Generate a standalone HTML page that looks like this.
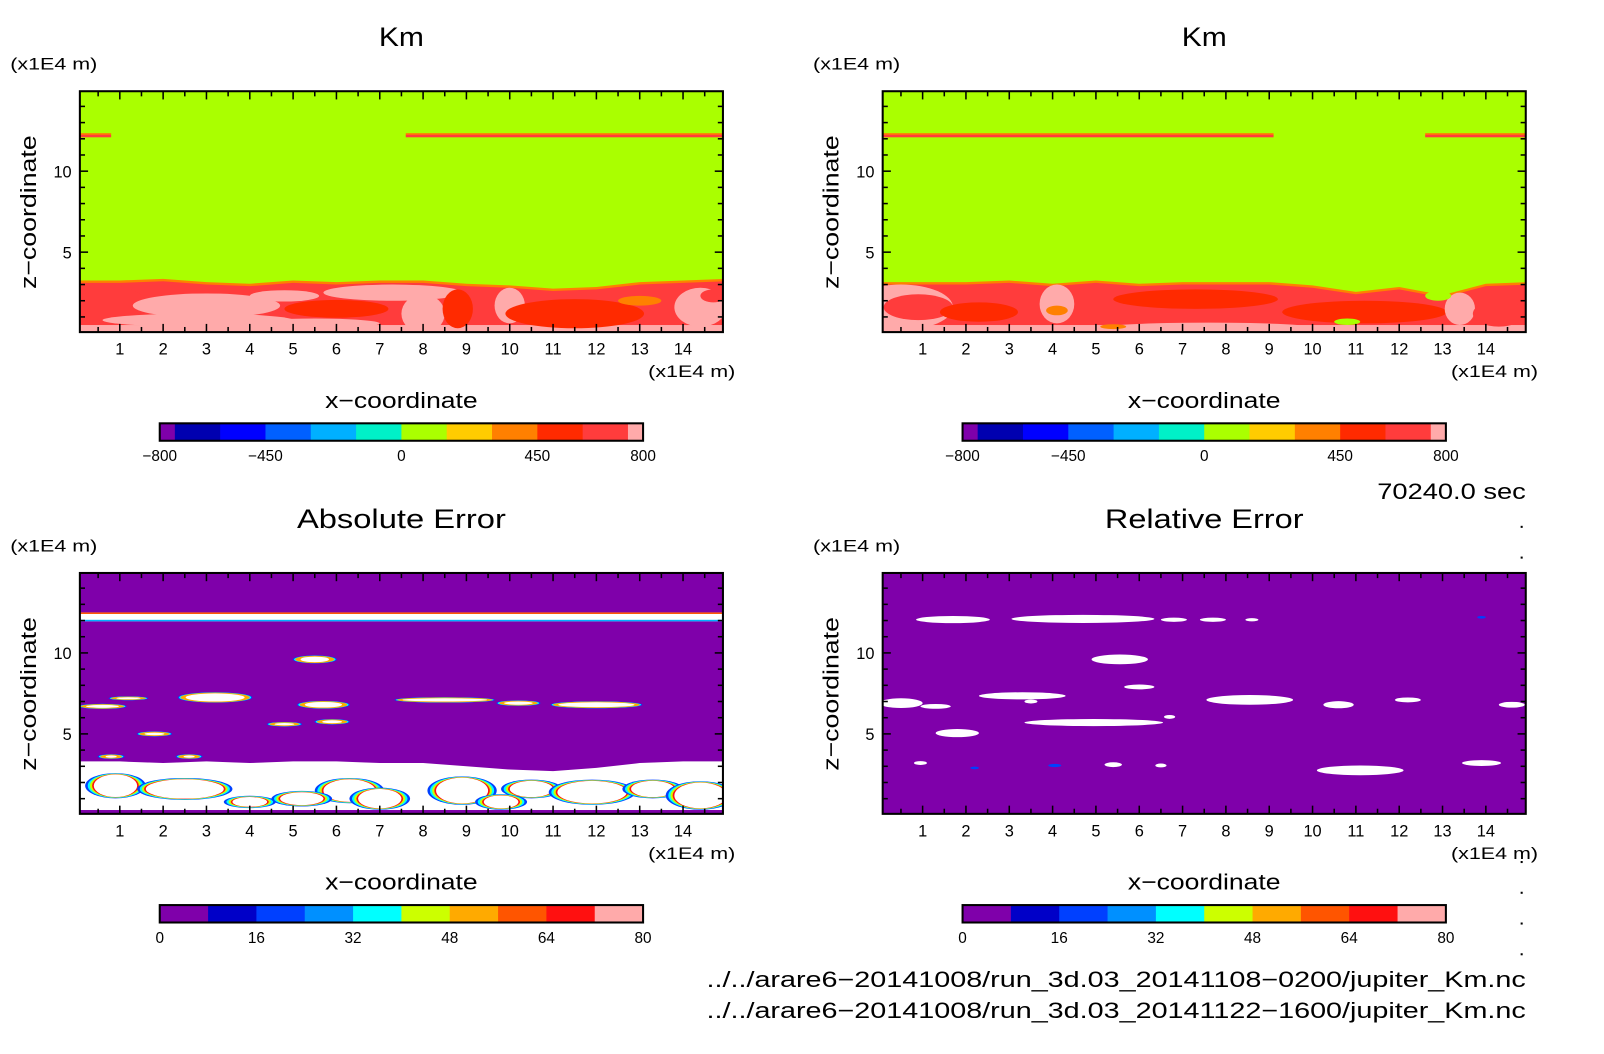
<!DOCTYPE html>
<html><head><meta charset="utf-8"><style>
html,body{margin:0;padding:0;background:#fff;}
svg{display:block;font-family:"Liberation Sans",sans-serif;}
</style></head><body>
<svg width="1604" height="1054" viewBox="0 0 1604 1054" xmlns="http://www.w3.org/2000/svg"><g id="fig" transform="scale(1.024,1.025)"></g></svg>
<script>
// ---------- data ----------
const xCats = [0,1,2,3,4,5,6,7,8,9,10,11,12,13,14,15];
const kmTLTop = [3.1,3.1,3.2,3.0,2.9,3.1,3.0,3.1,3.1,2.9,2.8,2.6,2.7,3.0,3.1,3.2];
const kmTRTop = [3.0,3.0,3.0,3.1,2.9,3.1,2.9,3.0,3.0,3.0,2.8,2.4,2.7,2.2,2.9,3.0];
// blobs: x, z, rx, rz, colour level (0 pink,1 red,2 dark red,3 orange,4 yellow,5 green)
const kmTLBlobs = [[0.6,1.8,1.0,1.2,1],[3.0,1.7,1.7,0.75,0],[2.8,0.8,2.2,0.4,0],[6.3,1.6,1.6,0.8,1],[6.0,1.5,1.2,0.55,2],[7.3,2.5,1.6,0.5,0],[8.0,1.2,0.5,1.2,0],[8.8,1.5,0.35,1.2,2],[10.0,1.7,0.35,1.1,0],[11.5,1.2,1.6,0.9,2],[13.0,2.0,0.5,0.3,3],[14.4,1.6,0.6,1.2,0],[14.7,2.3,0.3,0.4,1],[4.8,2.3,0.8,0.35,0],[5.5,0.6,1.5,0.3,0]];
const kmTRBlobs = [[0.5,1.6,1.2,1.4,0],[0.9,1.6,0.8,0.8,1],[2.3,1.3,0.9,0.6,2],[4.1,1.8,0.4,1.2,0],[4.1,1.4,0.25,0.3,3],[7.3,2.1,1.9,0.6,2],[7.6,0.3,2.5,0.35,0],[11.2,1.3,1.9,0.7,2],[10.8,0.7,0.3,0.2,5],[13.4,1.5,0.35,1.0,0],[14.3,1.2,0.6,0.8,1],[5.4,0.4,0.3,0.15,3],[12.9,2.3,0.3,0.3,5]];
const kmTLBand = [[0.08,0.8],[7.6,14.92]];
const kmTRBand = [[0.08,9.1],[12.6,14.92]];
const absTop = [3.3,3.3,3.2,3.3,3.2,3.3,3.3,3.2,3.2,3.0,2.8,2.7,2.9,3.2,3.3,3.3];
// ring blobs for absolute error: x, z, rx, rz
const absRings = [[5.5,9.6,0.45,0.22],[3.2,7.25,0.8,0.3],[5.7,6.8,0.55,0.22],[4.8,5.6,0.35,0.12],[5.9,5.75,0.35,0.14],[1.8,5.0,0.35,0.13],[8.5,7.1,1.1,0.15],[10.2,6.9,0.45,0.15],[12.0,6.8,1.0,0.2],[0.6,6.7,0.5,0.14],[1.2,7.2,0.4,0.1],[2.6,3.6,0.25,0.12],[0.8,3.6,0.25,0.12]];
const absInner = [[0.9,1.8,0.5,0.7],[2.5,1.6,0.9,0.6],[4.0,0.8,0.4,0.3],[6.3,1.5,0.6,0.7],[7.0,1.0,0.5,0.6],[8.9,1.5,0.6,0.8],[10.5,1.6,0.5,0.5],[11.9,1.4,0.8,0.7],[13.3,1.6,0.5,0.5],[14.4,1.2,0.6,0.8],[5.2,1.0,0.5,0.4],[9.8,0.8,0.4,0.4]];
const relBlobs = [[1.7,12.06,0.85,0.22],[4.7,12.1,1.65,0.25],[6.8,12.05,0.3,0.13],[7.7,12.05,0.3,0.13],[8.6,12.05,0.15,0.1],[5.55,9.6,0.65,0.3],[6.0,7.9,0.35,0.15],[3.3,7.35,1.0,0.22],[3.5,7.0,0.15,0.12],[0.5,6.9,0.5,0.3],[1.3,6.7,0.35,0.15],[4.95,5.7,1.6,0.22],[6.7,6.05,0.13,0.12],[1.8,5.05,0.5,0.25],[8.55,7.1,1.0,0.3],[10.6,6.8,0.35,0.22],[12.2,7.1,0.3,0.15],[14.6,6.8,0.3,0.18],[0.95,3.2,0.15,0.12],[5.4,3.1,0.2,0.15],[6.5,3.05,0.13,0.12],[11.1,2.75,1.0,0.3],[13.9,3.2,0.45,0.18]];
const relBlue = [[2.2,2.9,0.1,0.08],[4.05,3.05,0.15,0.1],[13.9,12.2,0.1,0.08],[2.9,7.3,0.4,0.08]];
const xTicks = [1,2,3,4,5,6,7,8,9,10,11,12,13,14];
const yTicks = [5,10];
const kmLevels = [-800,-750,-600,-450,-300,-150,0,150,300,450,600,750,800];
const kmColors = ["#7f00aa","#0000b0","#0000ff","#0060ff","#00b0ff","#00f0c8","#aaff00","#ffcc00","#ff8000","#ff2a00","#ff3c3c","#ffaaaa"];
const kmLabels = [-800,-450,0,450,800];
const errLevels = [0,8,16,24,32,40,48,56,64,72,80];
const errColors = ["#7f00aa","#0000c8","#0040ff","#0090ff","#00ffff","#ccff00","#ffaa00","#ff5500","#ff1010","#ffaaaa"];
const errLabels = [0,16,32,48,64,80];

// ---------- helpers ----------
const NS="http://www.w3.org/2000/svg";
const svg=document.getElementById('fig');
function mk(tag,attrs,parent){const e=document.createElementNS(NS,tag);for(const k in attrs)e.setAttribute(k,attrs[k]);(parent||svg).appendChild(e);return e;}
function txt(s,x,y,size,anchor,parent,len){const a={x:x,y:y,'font-size':size,'text-anchor':anchor||'middle',fill:'#000'};
  if(len){a.textLength=len;a.lengthAdjust='spacingAndGlyphs';}
  const t=mk('text',a,parent);t.textContent=s;return t;}
const kmShades=["#ffaaaa","#ff3c3c","#ff2a00","#ff8000","#ffcc00","#aaff00"];

function panel(ox,oy,title,name,draw,tlen){
  const g=mk('g',{});
  
  
  const X=v=>ox+117+(v-1)*42.31;
  const Y=v=>oy+246-(v-5)*15.8;
  const L=ox+78,R=ox+706,T=oy+89,B=oy+324;
  const cid='clip'+name;
  const cp=mk('clipPath',{id:cid},g);mk('rect',{x:L,y:T,width:R-L,height:B-T},cp);
  const plot=mk('g',{'clip-path':'url(#'+cid+')'},g);
  
  
  draw(plot,X,Y,L,R,T,B);
  mk('rect',{x:L,y:T,width:R-L,height:B-T,fill:'none',stroke:'#000','stroke-width':2},g);
  for(let v=0.5;v<15;v+=0.5){const maj=Number.isInteger(v);const l=maj?8:5;
    mk('line',{x1:X(v),x2:X(v),y1:B,y2:B-l,stroke:'#000','stroke-width':1.5},g);
    mk('line',{x1:X(v),x2:X(v),y1:T,y2:T+l,stroke:'#000','stroke-width':1.5},g);}
  for(let v=1;v<15;v++){const maj=v%5===0;const l=maj?8:5;
    mk('line',{x1:L,x2:L+l,y1:Y(v),y2:Y(v),stroke:'#000','stroke-width':1.5},g);
    mk('line',{x1:R,x2:R-l,y1:Y(v),y2:Y(v),stroke:'#000','stroke-width':1.5},g);}
  xTicks.forEach(v=>{const t=txt(String(v),X(v),oy+346,16,'middle',g);
    
    });
  yTicks.forEach(v=>{const t=txt(String(v),ox+70,Y(v)+6,16,'end',g);
    
    });
  let t=txt(title,ox+392,oy+45,26,'middle',g,tlen);
  
  
  t=txt('(x1E4 m)',ox+10,oy+68,16,'start',g,85);
  
  
  t=txt('(x1E4 m)',ox+718,oy+368,16,'end',g,85);
  
  
  t=txt('x\u2212coordinate',ox+392,oy+398,22,'middle',g,149);
  
  
  t=txt('z\u2212coordinate',0,0,22,'middle',g,150);
  t.setAttribute('transform','translate('+(ox+35)+','+(oy+207)+') rotate(-90)');
  
  
  return g;
}
function ell(p,X,Y,b,fill,grow){const gx=grow||0;
  return mk('ellipse',{cx:X(b[0]),cy:Y(b[1]),rx:Math.max(1,(b[2]+gx)*42.31),ry:Math.max(1,(b[3]+gx*0.4)*15.8),fill:fill},p);}
function topPoly(p,X,Y,tops,B,fill){let pts=xCats.map((x,i)=>X(x)+','+Y(tops[i]));
  pts.unshift(X(xCats[0])+','+B);pts.push(X(xCats[xCats.length-1])+','+B);
  return mk('polygon',{points:pts.join(' '),fill:fill},p);}
function colorbar(ox,oy,levels,colors,labels,name){
  const g=mk('g',{});
  
  
  const x0=ox+156,x1=ox+628,lo=levels[0],hi=levels[levels.length-1];
  const P=v=>x0+(v-lo)/(hi-lo)*(x1-x0);
  colors.forEach((c,i)=>{const r=mk('rect',{x:P(levels[i]),y:oy+413,width:P(levels[i+1])-P(levels[i])+0.5,height:17,fill:c},g);
    
    });
  mk('rect',{x:x0,y:oy+413,width:x1-x0,height:17,fill:'none',stroke:'#000','stroke-width':2},g);
  labels.forEach(v=>{const t=txt(String(v).replace('-','\u2212'),P(v),oy+450,15,'middle',g);
    
    });
}
function kmDraw(tops,blobs,band){return (p,X,Y,L,R,T,B)=>{
  mk('rect',{x:L,y:T,width:R-L,height:B-T,fill:'#aaff00'},p);
  topPoly(p,X,Y,tops.map(v=>v+0.15),B,'#ff8000');
  topPoly(p,X,Y,tops,B,'#ff3c3c');
  mk('rect',{x:L,y:Y(0.5),width:R-L,height:B-Y(0.5),fill:'#ffaaaa'},p);
  blobs.forEach(b=>{const e=ell(p,X,Y,b,kmShades[b[4]]);
    
    });
  band.forEach(s=>{mk('rect',{x:X(s[0]),y:Y(12.35),width:X(s[1])-X(s[0]),height:2,fill:'#ff8000'},p);
    mk('rect',{x:X(s[0]),y:Y(12.25),width:X(s[1])-X(s[0]),height:2.5,fill:'#ff3c3c'},p);});
};}
panel(0,0,'Km','panel-km-left',kmDraw(kmTLTop,kmTLBlobs,kmTLBand),44);
colorbar(0,0,kmLevels,kmColors,kmLabels,'colorbar-km-left');
panel(784,0,'Km','panel-km-right',kmDraw(kmTRTop,kmTRBlobs,kmTRBand),44);
colorbar(784,0,kmLevels,kmColors,kmLabels,'colorbar-km-right');
panel(0,470,'Absolute Error','panel-absolute-error',(p,X,Y,L,R,T,B)=>{
  mk('rect',{x:L,y:T,width:R-L,height:B-T,fill:'#7f00aa'},p);
  mk('rect',{x:L,y:Y(12.5),width:R-L,height:Y(11.95)-Y(12.5),fill:'#fff'},p);
  mk('rect',{x:L,y:Y(12.5),width:R-L,height:1.5,fill:'#ff5500'},p);
  mk('rect',{x:L,y:Y(11.95)-1.5,width:R-L,height:1.5,fill:'#00b0ff'},p);
  topPoly(p,X,Y,absTop,B,'#fff');
  absInner.forEach(b=>{[['#0040ff',0.2],['#00ffff',0.14],['#ccff00',0.09],['#ff1010',0.04],['#fff',0]].forEach(c=>{
    const e=ell(p,X,Y,b,c[0],c[1]);
    
    });});
  absRings.forEach(b=>{[['#0040ff',0.06],['#00ffff',0.03],['#ffaa00',0.0],['#fff',-0.12]].forEach(c=>{
    const e=ell(p,X,Y,b,c[0],c[1]);
    
    });});
  mk('rect',{x:L,y:Y(0.3),width:R-L,height:B-Y(0.3),fill:'#7f00aa'},p);
},204);
colorbar(0,470,errLevels,errColors,errLabels,'colorbar-absolute-error');
panel(784,470,'Relative Error','panel-relative-error',(p,X,Y,L,R,T,B)=>{
  mk('rect',{x:L,y:T,width:R-L,height:B-T,fill:'#7f00aa'},p);
  relBlue.forEach(b=>{const e=ell(p,X,Y,b,'#0040ff');
    
    });
  relBlobs.forEach(b=>{const e=ell(p,X,Y,b,'#fff');
    
    });
},194);
colorbar(784,470,errLevels,errColors,errLabels,'colorbar-relative-error');
let a=txt('70240.0 sec',1490,487,22,'end',null,145);


a=txt('../../arare6\u221220141008/run_3d.03_20141108\u22120200/jupiter_Km.nc',1490,963,22,'end',null,800);


a=txt('../../arare6\u221220141008/run_3d.03_20141122\u22121600/jupiter_Km.nc',1490,993,22,'end',null,800);


[513,543,840,870,900,930].forEach(y=>{const d=mk('rect',{x:1485,y:y,width:2,height:2,fill:'#000'});
  
  });
</script>
</body></html>
